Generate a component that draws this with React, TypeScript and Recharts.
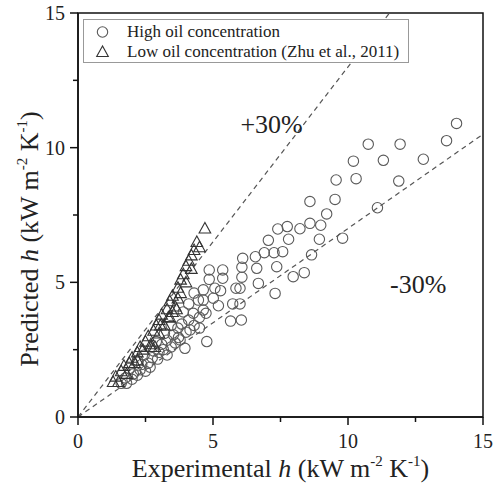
import React from 'react';
import { ScatterChart, Scatter, XAxis, YAxis, ReferenceLine, ReferenceArea, Legend } from 'recharts';

const FONT = "'Liberation Serif', 'Times New Roman', Times, serif";
const TS = { fontFamily: FONT };

// High oil concentration (circles): [experimental h, predicted h]
const highOil: [number, number][] = [
  [14.02, 10.9], [13.65, 10.26], [12.79, 9.57], [11.93, 10.13], [11.88, 8.76], [11.31, 9.53],
  [10.75, 10.13], [10.2, 9.5], [10.3, 8.85], [11.09, 7.77], [9.8, 6.64],
  [9.56, 8.8], [9.52, 8.08], [8.59, 8.0], [9.21, 7.54], [8.59, 7.19], [8.99, 7.12], [8.22, 6.99],
  [8.94, 6.6], [7.4, 6.98], [7.75, 7.07], [7.8, 6.6], [7.05, 6.56], [6.9, 6.1], [7.26, 6.1],
  [7.58, 6.14], [6.57, 5.95], [6.62, 5.52], [7.36, 5.58], [8.65, 6.02], [7.97, 5.21], [8.38, 5.36],
  [6.68, 4.96], [7.3, 4.59], [6.1, 5.89], [6.07, 5.56], [6.07, 5.19], [6.0, 4.78], [5.85, 4.78],
  [6.0, 4.2], [5.73, 4.2], [5.65, 3.56], [6.05, 3.6], [5.36, 5.46], [5.36, 5.15], [4.86, 5.46],
  [4.86, 5.11], [5.28, 4.69], [5.07, 4.78], [5.01, 4.41], [5.2, 4.13], [4.64, 4.72], [4.64, 4.34],
  [4.74, 3.85], [4.77, 2.8], [4.5, 3.3], [4.46, 4.34], [4.64, 3.97], [4.27, 3.85],
  [1.6, 1.25], [1.8, 1.25], [1.75, 1.45], [2.0, 1.4], [2.05, 1.6], [2.2, 1.55], [2.3, 1.75],
  [2.36, 1.95], [2.5, 1.7], [2.6, 2.0], [2.67, 1.85], [2.75, 2.2], [2.8, 2.45], [2.95, 2.15],
  [3.0, 2.4], [3.1, 2.7], [3.16, 2.5], [3.3, 2.3], [3.3, 2.85], [3.45, 2.6], [3.53, 3.05],
  [3.6, 2.75], [3.7, 3.3], [3.72, 2.95], [3.84, 3.45], [3.78, 2.86], [3.96, 2.55], [4.0, 3.15],
  [4.15, 3.23], [4.1, 3.6], [4.3, 3.4], [4.5, 3.7], [2.2, 2.1], [2.45, 2.3], [1.9, 1.8],
  [2.9, 2.8], [3.2, 3.1], [3.45, 3.4], [3.9, 3.9], [4.1, 4.2], [4.3, 4.6],
];

// Low oil concentration (Zhu et al., 2011) (triangles)
const lowOil: [number, number][] = [
  [1.3, 1.3], [1.4, 1.5], [1.5, 1.3], [1.6, 1.7], [1.7, 1.9], [1.8, 1.6], [1.9, 2.0], [2.0, 2.2],
  [2.1, 2.0], [2.2, 2.4], [2.3, 2.6], [2.4, 2.5], [2.5, 2.8], [2.6, 3.0], [2.7, 2.7], [2.8, 3.2],
  [2.9, 3.4], [3.0, 3.1], [3.0, 3.6], [3.1, 3.8], [3.2, 3.4], [3.3, 4.0], [3.4, 3.7], [3.4, 4.3],
  [3.5, 4.5], [3.5, 3.9], [3.6, 4.1], [3.7, 4.8], [3.7, 4.4], [3.8, 5.1], [3.8, 4.6], [3.9, 5.3],
  [4.0, 5.6], [4.0, 5.0], [4.1, 5.8], [4.2, 6.0], [4.2, 5.5], [4.3, 6.2], [4.4, 6.5], [4.5, 6.3],
  [4.7, 7.0], [2.2, 2.1], [2.7, 2.6], [2.85, 2.6], [3.05, 3.4], [3.35, 3.7], [3.65, 4.0],
];

const axisTicks = [0, 2.5, 5, 7.5, 10, 12.5, 15];
const axisMax = 15;
const boundSlopes = [1.3, 0.7];
const boundLabels = ['+30%', '-30%'];
const boundLabelX = [7.17, 12.6];
const boundLabelY = [10.55, 4.6];
const seriesNames = ['High oil concentration', 'Low oil concentration (Zhu et al., 2011)'];

const highData = highOil.map(([x, y]) => ({ x, y }));
const lowData = lowOil.map(([x, y]) => ({ x, y }));
const labelData = boundLabels.map((t, i) => ({ x: boundLabelX[i], y: boundLabelY[i], t }));

const segEnd = (s: number) => (s > 1 ? { x: axisMax / s, y: axisMax } : { x: axisMax, y: axisMax * s });

const XTick = (props: any) => {
  const { x, y, payload } = props;
  const major = payload.value % 5 === 0;
  return (
    <g>
      <line x1={x} x2={x} y1={y} y2={y + (major ? 8 : 5)} stroke="#111" strokeWidth={1.5} />
      {major && (
        <text x={x} y={y + 31} textAnchor="middle" fontSize={20} fontFamily={FONT} style={TS} fill="#222">
          {payload.value}
        </text>
      )}
    </g>
  );
};

const YTick = (props: any) => {
  const { x, y, payload } = props;
  const major = payload.value % 5 === 0;
  return (
    <g>
      <line x1={x} x2={x - (major ? 8 : 5)} y1={y} y2={y} stroke="#111" strokeWidth={1.5} />
      {major && (
        <text x={x - 13} y={y + 7} textAnchor="end" fontSize={20} fontFamily={FONT} style={TS} fill="#222">
          {payload.value}
        </text>
      )}
    </g>
  );
};

const AxisTitle = ({ x, y, lead, rotate }: any) => (
  <text
    x={x}
    y={y}
    textAnchor="middle"
    fontSize={26}
    fontFamily={FONT}
    style={TS}
    fill="#222"
    transform={rotate ? `rotate(-90, ${x}, ${y})` : undefined}
  >
    {lead + ' '}
    <tspan fontStyle="italic">h</tspan>
    {' (kW m'}
    <tspan dy={-11} fontSize={15}>-2</tspan>
    <tspan dy={11}>{' K'}</tspan>
    <tspan dy={-11} fontSize={15}>-1</tspan>
    <tspan dy={11}>)</tspan>
  </text>
);

const XLabel = (props: any) => {
  const vb = props.viewBox || { x: 78, y: 417, width: 405, height: 68 };
  return <AxisTitle x={vb.x + vb.width / 2} y={vb.y + 60} lead="Experimental" />;
};

const YLabel = (props: any) => {
  const vb = props.viewBox || { x: 0, y: 13, width: 78, height: 404 };
  return <AxisTitle x={vb.x + 38} y={vb.y + vb.height / 2 + 24} lead="Predicted" rotate />;
};

const CircleShape = (p: any) => (
  <circle cx={p.cx} cy={p.cy} r={5.2} fill="none" stroke="#5a5a5a" strokeWidth={1.1} />
);
const TriangleShape = (p: any) => (
  <polygon
    points={`${p.cx},${p.cy - 6} ${p.cx - 5.8},${p.cy + 4.5} ${p.cx + 5.8},${p.cy + 4.5}`}
    fill="none"
    stroke="#333"
    strokeWidth={1.1}
  />
);
const TextShape = (p: any) => (
  <text x={p.cx} y={p.cy} textAnchor="middle" fontSize={26} fontFamily={FONT} style={TS} fill="#222">
    {p.payload.t}
  </text>
);

const LegendBox = () => (
  <div
    style={{
      boxSizing: 'border-box',
      width: 326,
      height: 44,
      border: '1px solid #999',
      background: '#fff',
      fontFamily: FONT,
      fontSize: 17,
      color: '#222',
      paddingTop: 2,
    }}
  >
    {seriesNames.map((n, i) => (
      <div key={n} style={{ display: 'flex', alignItems: 'center', height: 20, lineHeight: '20px' }}>
        <svg width={43} height={20} style={{ flex: 'none' }}>
          {i === 0 ? (
            <circle cx={18.5} cy={10} r={5.2} fill="none" stroke="#5a5a5a" strokeWidth={1.1} />
          ) : (
            <polygon points="18.5,4 12.7,14.5 24.3,14.5" fill="none" stroke="#333" strokeWidth={1.1} />
          )}
        </svg>
        <span style={{ whiteSpace: 'nowrap' }}>{n}</span>
      </div>
    ))}
  </div>
);

export default function App() {
  return (
    <div style={{ position: 'absolute', top: 0, left: 0, fontFamily: FONT }}>
      <ScatterChart width={496} height={485} margin={{ top: 13, right: 13, bottom: 0, left: 0 }}>
        <XAxis
          type="number"
          dataKey="x"
          domain={[0, axisMax]}
          ticks={axisTicks}
          interval={0}
          height={68}
          tickLine={false}
          tickSize={0}
          tickMargin={0}
          tick={<XTick />}
          axisLine={{ stroke: '#111', strokeWidth: 1.5 }}
          label={{ content: (p: any) => <XLabel {...p} /> }}
        />
        <YAxis
          type="number"
          dataKey="y"
          domain={[0, axisMax]}
          ticks={axisTicks}
          interval={0}
          width={78}
          tickLine={false}
          tickSize={0}
          tickMargin={0}
          tick={<YTick />}
          axisLine={{ stroke: '#111', strokeWidth: 1.5 }}
          label={{ content: (p: any) => <YLabel {...p} /> }}
        />
        <ReferenceArea x1={0} x2={axisMax} y1={0} y2={axisMax} fill="none" stroke="#111" strokeWidth={1.5} />
        {boundSlopes.map((s) => (
          <ReferenceLine
            key={s}
            segment={[{ x: 0, y: 0 }, segEnd(s)]}
            stroke="#555"
            strokeWidth={1.2}
            strokeDasharray="5 4"
          />
        ))}
        <Scatter name={seriesNames[0]} data={highData} shape={CircleShape} isAnimationActive={false} />
        <Scatter name={seriesNames[1]} data={lowData} shape={TriangleShape} isAnimationActive={false} />
        <Scatter data={labelData} shape={TextShape} isAnimationActive={false} legendType="none" />
        <Legend
          layout="vertical"
          align="center"
          verticalAlign="middle"
          content={() => <LegendBox />}
          wrapperStyle={{ top: 19, left: 83, width: 326, height: 44 }}
        />
      </ScatterChart>
    </div>
  );
}
